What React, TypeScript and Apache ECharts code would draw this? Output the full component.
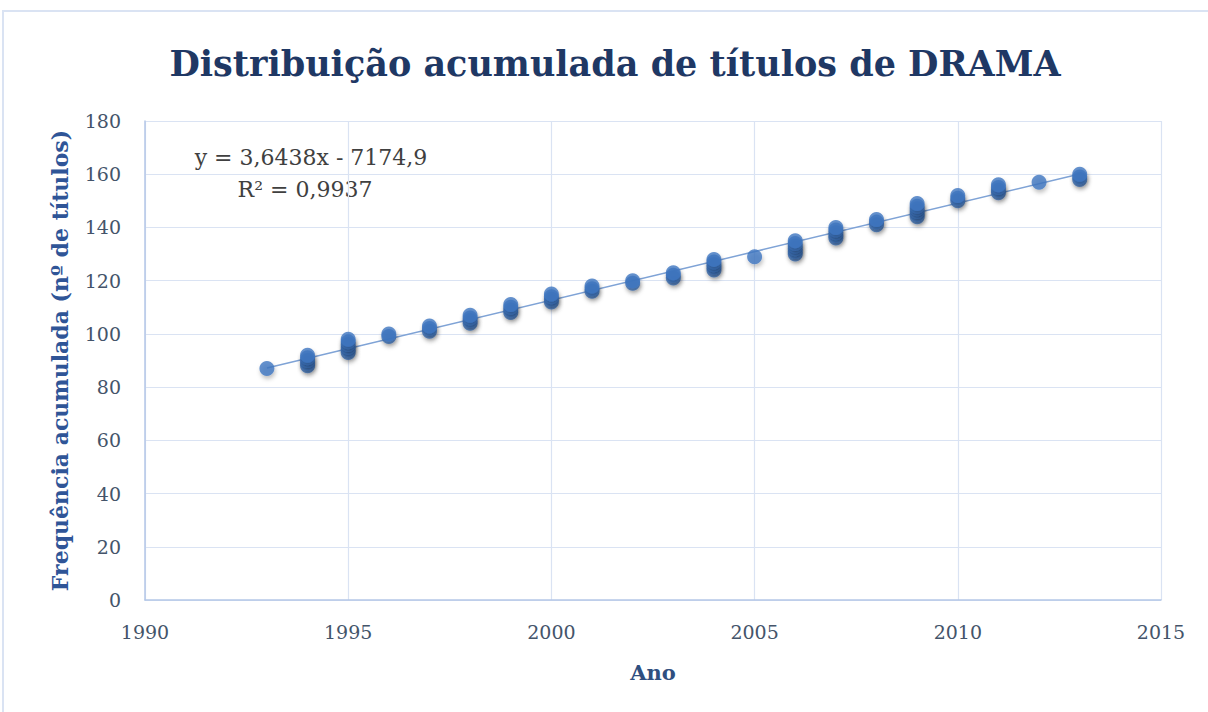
import React, { useEffect, useRef } from "react";
import * as echarts from "echarts";

const titleText = "Distribuição acumulada de títulos de DRAMA";
const xAxisName = "Ano";
const yAxisName = "Frequência acumulada (nº de títulos)";
const equationText = "y = 3,6438x - 7174,9";
const r2Text = "R² = 0,9937";

const trendSlope = 3.6438;
const trendIntercept = -7174.9;
const trendRange = [1993, 2013];

const years = [
  1993,
  1994, 1994, 1994, 1994, 1994,
  1995, 1995, 1995, 1995, 1995, 1995,
  1996, 1996,
  1997, 1997, 1997,
  1998, 1998, 1998, 1998,
  1999, 1999, 1999, 1999,
  2000, 2000, 2000, 2000,
  2001, 2001, 2001,
  2002, 2002,
  2003, 2003, 2003,
  2004, 2004, 2004, 2004, 2004,
  2005,
  2006, 2006, 2006, 2006, 2006, 2006,
  2007, 2007, 2007, 2007, 2007,
  2008, 2008, 2008,
  2009, 2009, 2009, 2009, 2009, 2009,
  2010, 2010, 2010,
  2011, 2011, 2011, 2011,
  2012,
  2013, 2013, 2013,
];

const cumulative = [
  87,
  88, 89, 90, 91, 92,
  93, 94, 95, 96, 97, 98,
  99, 100,
  101, 102, 103,
  104, 105, 106, 107,
  108, 109, 110, 111,
  112, 113, 114, 115,
  116, 117, 118,
  119, 120,
  121, 122, 123,
  124, 125, 126, 127, 128,
  129,
  130, 131, 132, 133, 134, 135,
  136, 137, 138, 139, 140,
  141, 142, 143,
  144, 145, 146, 147, 148, 149,
  150, 151, 152,
  153, 154, 155, 156,
  157,
  158, 159, 160,
];

const FONT = "'DejaVu Serif', 'Liberation Serif', serif";

export default function App() {
  const ref = useRef<HTMLDivElement>(null);
  useEffect(() => {
    if (!ref.current) return;
    const chart = echarts.init(ref.current, undefined, { renderer: "svg" });
    const points = years.map((y, i) => [y, cumulative[i]]);
    const trend = trendRange.map((x) => [x, trendSlope * x + trendIntercept]);
    chart.setOption({
      animation: false,
      backgroundColor: "#ffffff",
      title: {
        text: titleText,
        left: 610,
        textAlign: "center",
        top: 41,
        textStyle: {
          fontFamily: FONT,
          fontSize: 35,
          fontWeight: "bold",
          color: "#1F3864",
        },
      },
      grid: { left: 145, right: 47, top: 121, bottom: 112 },
      xAxis: {
        type: "value",
        min: 1990,
        max: 2015,
        interval: 5,
        name: xAxisName,
        nameLocation: "middle",
        nameGap: 62,
        nameTextStyle: {
          fontFamily: FONT,
          fontSize: 21,
          fontWeight: "bold",
          color: "#2F4F7F",
        },
        axisLine: { show: true, lineStyle: { color: "#B4C7E7", width: 1.5 } },
        axisTick: { show: false },
        splitLine: { show: true, lineStyle: { color: "#DAE3F3", width: 1.2 } },
        axisLabel: {
          margin: 22,
          fontFamily: FONT,
          fontSize: 19,
          color: "#44546A",
          formatter: (v: number) => String(v),
        },
      },
      yAxis: {
        type: "value",
        min: 0,
        max: 180,
        interval: 20,
        name: yAxisName,
        nameLocation: "middle",
        nameGap: 74,
        nameTextStyle: {
          fontFamily: FONT,
          fontSize: 22,
          fontWeight: "bold",
          color: "#2F5597",
        },
        axisLine: { show: true, lineStyle: { color: "#B4C7E7", width: 1.5 } },
        axisTick: { show: false },
        splitLine: { show: true, lineStyle: { color: "#DAE3F3", width: 1.2 } },
        axisLabel: {
          margin: 24,
          fontFamily: FONT,
          fontSize: 19,
          color: "#44546A",
        },
      },
      series: [
        {
          type: "line",
          data: trend,
          showSymbol: false,
          symbol: "none",
          lineStyle: { color: "#7FA3D6", width: 1.5 },
          z: 1,
        },
        {
          type: "scatter",
          data: points,
          symbol: "circle",
          symbolSize: 15,
          itemStyle: {
            color: "#3E76C0",
            shadowBlur: 4,
            shadowColor: "rgba(0,0,0,0.3)",
            shadowOffsetX: 1,
            shadowOffsetY: 3,
          },
          z: 3,
        },
      ],
      graphic: [
        {
          type: "polyline",
          shape: { points: [[3, 712], [3, 11], [1208, 11]] },
          style: { stroke: "#DAE3F3", lineWidth: 2, fill: "none" },
          silent: true,
        },
        {
          type: "text",
          x: 311,
          y: 157,
          style: {
            text: equationText,
            textAlign: "center",
            textVerticalAlign: "middle",
            font: `22px ${FONT}`,
            fill: "#404040",
          },
        },
        {
          type: "text",
          x: 305,
          y: 189,
          style: {
            text: r2Text,
            textAlign: "center",
            textVerticalAlign: "middle",
            font: `22px ${FONT}`,
            fill: "#404040",
          },
        },
      ],
    });
    return () => chart.dispose();
  }, []);
  return (
    <div
      ref={ref}
      style={{ position: "fixed", left: 0, top: 0, width: 1208, height: 712 }}
    />
  );
}
